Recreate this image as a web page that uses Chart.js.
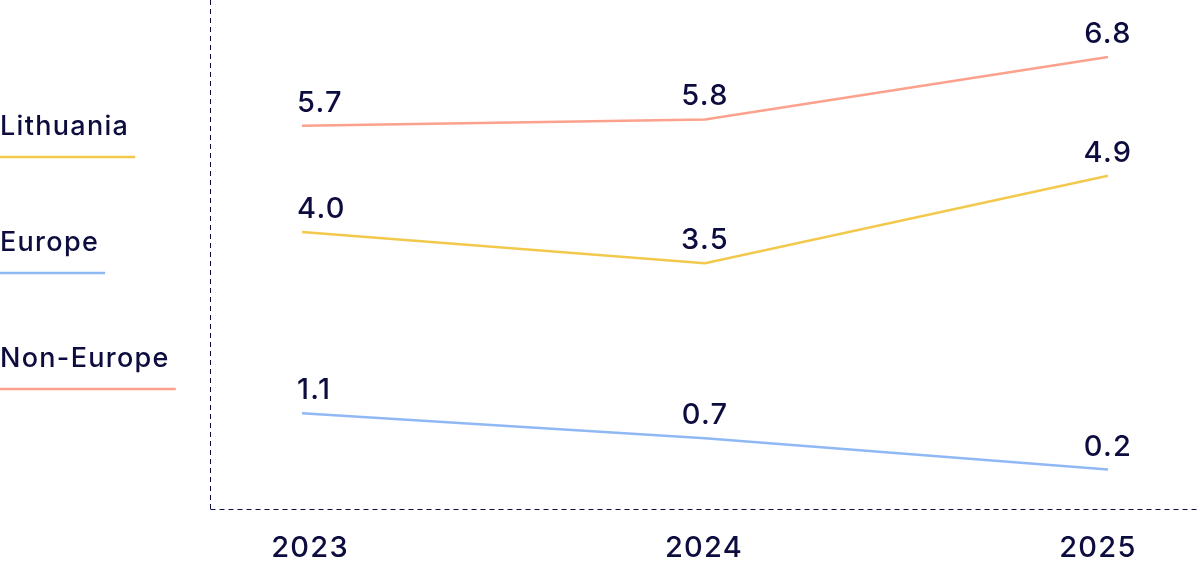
<!DOCTYPE html>
<html>
<head>
<meta charset="utf-8">
<script src="https://cdn.jsdelivr.net/npm/chart.js@4.4.1/dist/chart.umd.min.js"></script>
<style>
  html, body { margin: 0; padding: 0; background: #ffffff; }
  #wrap { width: 1200px; height: 568px; position: relative; }
</style>
</head>
<body>
<div id="wrap"><canvas id="myChart"></canvas></div>
<script>
// data
const years = [2023, 2024, 2025];
const seriesNames = ['Lithuania', 'Europe', 'Non-Europe'];
const lithuania = [4.0, 3.5, 4.9];
const europe = [1.1, 0.7, 0.2];
const nonEurope = [5.7, 5.8, 6.8];

const navy = '#0d0c3e';
const colors = ['#f2c94c', '#90b8f4', '#fca18b'];
const fontFamily = 'Inter, "Noto Sans", sans-serif';

function toPoints(values) {
    return values.map((v, i) => ({ x: years[i], y: v }));
}

// wider letters like the original font, and dashed frame on left + bottom
const frame = {
    id: 'frame',
    beforeDraw(chart) {
        chart.ctx.letterSpacing = '1.3px';
    },
    beforeDatasetsDraw(chart) {
        const {ctx, chartArea} = chart;
        ctx.save();
        ctx.strokeStyle = navy;
        ctx.lineWidth = 1;
        ctx.setLineDash([5, 4]);
        ctx.beginPath();
        ctx.moveTo(chartArea.left + 0.5, chartArea.top);
        ctx.lineTo(chartArea.left + 0.5, chartArea.bottom + 0.5);
        ctx.stroke();
        ctx.beginPath();
        ctx.moveTo(chartArea.left + 0.5, chartArea.bottom + 0.5);
        ctx.lineTo(chartArea.right, chartArea.bottom + 0.5);
        ctx.stroke();
        ctx.restore();
    }
};

// legend on the left: name with a coloured line underneath
const sideLegend = {
    id: 'sideLegend',
    afterDraw(chart) {
        const ctx = chart.ctx;
        ctx.save();
        ctx.font = '500 27px ' + fontFamily;
        ctx.letterSpacing = '1.3px';
        ctx.textAlign = 'left';
        ctx.textBaseline = 'alphabetic';
        chart.data.datasets.forEach((ds, i) => {
            const y = 135 + i * 116;
            ctx.fillStyle = navy;
            ctx.fillText(ds.label, 0, y);
            const w = ctx.measureText(ds.label).width + 6;
            ctx.strokeStyle = ds.borderColor;
            ctx.lineWidth = 2.5;
            ctx.beginPath();
            ctx.moveTo(0, y + 22);
            ctx.lineTo(w, y + 22);
            ctx.stroke();
        });
        ctx.restore();
    }
};

// value above every point
const valueLabels = {
    id: 'valueLabels',
    afterDatasetsDraw(chart) {
        const ctx = chart.ctx;
        ctx.save();
        ctx.font = '500 29px ' + fontFamily;
        ctx.letterSpacing = '1.3px';
        ctx.fillStyle = navy;
        ctx.textBaseline = 'alphabetic';
        chart.data.datasets.forEach((ds, i) => {
            const meta = chart.getDatasetMeta(i);
            meta.data.forEach((pt, j) => {
                const first = j === 0;
                ctx.textAlign = first ? 'left' : 'center';
                ctx.fillText(ds.data[j].y.toFixed(1), first ? pt.x - 5 : pt.x, pt.y - 14);
            });
        });
        ctx.restore();
    }
};

var ctx = document.getElementById('myChart').getContext('2d');
var chart = new Chart(ctx, {
    type: 'line',
    data: {
        datasets: [
            { label: seriesNames[0], data: toPoints(lithuania), borderColor: colors[0] },
            { label: seriesNames[1], data: toPoints(europe), borderColor: colors[1] },
            { label: seriesNames[2], data: toPoints(nonEurope), borderColor: colors[2] }
        ].map(ds => Object.assign(ds, {
            xAxisID: 'xData',
            borderWidth: 2.5,
            pointRadius: 0,
            pointHoverRadius: 0,
            tension: 0,
            fill: false
        }))
    },
    options: {
        responsive: true,
        maintainAspectRatio: false,
        animation: false,
        layout: { padding: 0 },
        plugins: {
            legend: { display: false },
            tooltip: { enabled: false }
        },
        scales: {
            // hidden axis that places the points
            xData: {
                type: 'linear',
                display: false,
                min: 2022.7716,
                max: 2025.2284
            },
            // visible axis: year labels
            x: {
                type: 'linear',
                position: 'bottom',
                min: 2022.746,
                max: 2025.259,
                afterBuildTicks: (s) => { s.ticks = years.map(v => ({ value: v })); },
                afterFit: (s) => { s.height = 59; },
                grid: { display: false, drawTicks: false },
                border: { display: false },
                ticks: {
                    padding: 22,
                    color: navy,
                    font: { family: fontFamily, size: 29, weight: '500' },
                    maxRotation: 0,
                    autoSkip: false,
                    callback: (v) => String(v)
                }
            },
            y: {
                type: 'linear',
                min: -0.43,
                max: 7.71,
                afterFit: (s) => { s.width = 210; },
                grid: { display: false, drawTicks: false },
                border: { display: false },
                ticks: { display: false }
            }
        }
    },
    plugins: [frame, sideLegend, valueLabels]
});
</script>
</body>
</html>
